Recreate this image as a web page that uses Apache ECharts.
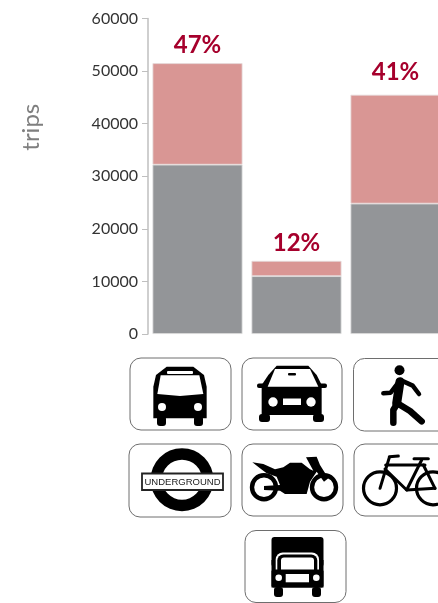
<!DOCTYPE html>
<html><head><meta charset="utf-8">
<style>html,body{margin:0;padding:0;background:#fff}#c{width:438px;height:603px}</style>
<script src="https://cdn.jsdelivr.net/npm/echarts@6/dist/echarts.min.js"></script>
</head><body><div id="c"></div>
<script>
const categories = ['Public transport', 'Private motor', 'Active'];
const lowerTrips = [32200, 11000, 24800];
const upperTrips = [19300, 2900, 20700];
const shareLabels = ['47%', '12%', '41%'];

const K = '#000', W = '#fff';
const z = pts => pts.map(p => [120 + p[0] / 3, 350 + p[1] / 3]);
const rect = (x, y, w, h, fill, r) => ({type:'rect', shape:{x, y, width:w, height:h, r:r||0}, style:{fill}});
const circ = (cx, cy, r, fill) => ({type:'circle', shape:{cx, cy, r}, style:{fill}});
const poly = (points, fill) => ({type:'polygon', shape:{points}, style:{fill}});
const pl = (points, lw, stroke) => ({type:'polyline', shape:{points}, style:{stroke:stroke||K, lineWidth:lw, fill:'none', lineCap:'round', lineJoin:'round'}});
const box = (x, y, w, h) => ({type:'rect', shape:{x, y, width:w, height:h, r:11}, style:{fill:W, stroke:'#6e6e6e', lineWidth:1}});
const wheel = (cx, cy, r, lw) => ({type:'circle', shape:{cx, cy, r}, style:{fill:'none', stroke:K, lineWidth:lw}});

const icons = [
  box(130, 358, 101, 72), box(242, 358, 100, 72), box(353.5, 358.5, 120, 72.5),
  box(129, 444, 102, 73), box(242, 444, 101, 72), box(354, 444, 120, 72), box(245, 530.5, 101, 72),
  // bus
  poly(z([[108,75],[140,50],[220,50],[252,75],[260,110],[260,205],[100,205],[100,110]]), K),
  rect(157, 416, 9, 10, K, 3), rect(194, 416, 9, 10, K, 3),
  poly(z([[122,76],[238,76],[250,132],[180,138],[112,132]]), W),
  rect(167, 371, 26, 3, W, 1), circ(162, 407, 4, W), circ(198, 407, 4, W),
  // car
  poly(z([[470,47],[565,47],[590,75],[605,105],[605,195],[425,195],[425,105],[445,75]]), K),
  rect(257, 383.5, 70, 4.5, K, 2),
  rect(259, 414, 11, 8, K, 3), rect(313, 414, 11, 8, K, 3),
  poly(z([[465,57],[570,57],[595,110],[443,110]]), W),
  rect(288, 373, 8, 2.5, K, 1), circ(273, 402, 4.7, W), circ(311, 402, 4.7, W),
  rect(283, 398.5, 18, 6.5, W),
  // walker
  circ(399.5, 370.3, 5, K),
  pl(z([[840,95],[830,160]]), 9),
  pl(z([[833,100],[812,128],[790,130]]), 4.5),
  pl(z([[845,92],[878,107],[897,132]]), 4.5),
  pl(z([[832,160],[820,180],[820,218]]), 6.5),
  pl(z([[832,160],[870,183],[905,214]]), 6.5),
  // underground
  {type:'ring', shape:{cx:182, cy:479.7, r:31.5, r0:20}, style:{fill:K}},
  {type:'rect', shape:{x:142, y:473.5, width:81, height:16.5}, style:{fill:W, stroke:'#222', lineWidth:1.8}},
  {type:'text', style:{x:182.5, y:482, text:'UNDERGROUND', align:'center', verticalAlign:'middle', fill:'#222', font:'9.5px "Liberation Sans"'}},
  // motorcycle
  wheel(264, 487.3, 12, 4.4), wheel(324, 487.3, 12, 4.4),
  poly(z([[397,337],[430,342],[465,358],[490,352],[510,338],[545,338],[570,358],[580,362],[558,322],[590,320],[600,345],[625,385],[612,395],[590,365],[570,395],[560,432],[495,432],[480,422],[432,420],[432,408],[480,405],[470,380],[440,370],[420,355]]), K),
  // bicycle
  wheel(380, 488.3, 16.5, 3.2), wheel(433, 488.3, 16.5, 3.2),
  pl(z([[808,322],[780,415]]), 3), pl(z([[797,345],[915,345]]), 3),
  pl(z([[795,357],[860,420],[945,415]]), 3), pl(z([[905,330],[860,420]]), 3),
  pl(z([[910,345],[945,415]]), 3), pl(z([[808,320],[835,318]]), 3), pl(z([[882,326],[925,326]]), 3),
  // truck
  rect(271.5, 537, 52, 30, K, 3),
  rect(271.5, 560, 52, 27.5, K),
  rect(275.7, 552.5, 43.3, 24, W, 7),
  rect(277.3, 554.5, 40, 22, K, 6),
  rect(281, 557.5, 33, 18, W, 3),
  rect(271.5, 569.5, 52, 18, K, 2),
  rect(274, 587, 9, 10, K, 3), rect(312, 587, 9, 10, K, 3),
  circ(278.7, 577.7, 3.3, W), circ(316.3, 577.7, 3.3, W),
  rect(285.7, 574, 23.3, 8.3, W)
];

const chart = echarts.init(document.getElementById('c'), null, {renderer:'canvas'});
chart.setOption({
  animation:false,
  backgroundColor:'#fff',
  grid:{left:148, top:18.5, width:297, height:315.5, containLabel:false, outerBoundsMode:'none'},
  xAxis:{type:'category', data:categories, axisLine:{show:false}, axisTick:{show:false}, axisLabel:{show:false}},
  yAxis:{
    type:'value', min:0, max:60000, interval:10000,
    name:'trips', nameLocation:'middle', nameGap:105,
    nameTextStyle:{fontFamily:'Lato', fontSize:24, color:'#7f7f7f', padding:[0,0,0,98]},
    axisLine:{show:true, lineStyle:{color:'#bfbfbf', width:1.5}},
    axisTick:{show:true, length:6, lineStyle:{color:'#bfbfbf', width:1}},
    splitLine:{show:false},
    axisLabel:{fontFamily:'Lato', fontSize:16, color:'#333', margin:10, formatter:v => String(v)}
  },
  series:[
    {type:'bar', stack:'t', data:lowerTrips, barWidth:90,
     itemStyle:{color:'#939598', borderColor:'#dcdcdc', borderWidth:0.8}},
    {type:'bar', stack:'t',
     data:upperTrips.map((v, i) => i === 2 ? {value:v, label:{distance:10}} : v),
     barWidth:90,
     itemStyle:{color:'#d99694', borderColor:'#e6dcdc', borderWidth:0.8}, 
     label:{show:true, position:'top', distance:6,
       formatter:p => shareLabels[p.dataIndex],
       fontFamily:'Lato', fontWeight:'bold', fontSize:24, color:'#a6002c'}}
  ],
  graphic:{elements:[{type:'group', silent:true, children:icons}]}
});
</script></body></html>
